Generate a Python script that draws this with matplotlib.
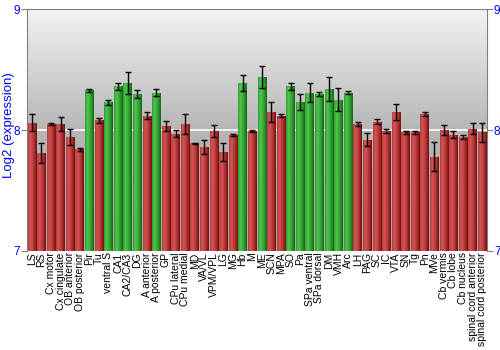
import numpy as np
import matplotlib.pyplot as plt
from matplotlib.colors import LinearSegmentedColormap

plt.rcParams['font.family'] = ['Liberation Sans', 'DejaVu Sans']

regions = ['LS', 'RS', 'Cx motor', 'Cx cingulate', 'OB anterior', 'OB posterior',
           'Pir', 'Tu', 'ventral S', 'CA1', 'CA2/CA3', 'DG', 'A anterior',
           'A posterior', 'GP', 'CPu lateral', 'CPu medial', 'MD', 'VA/VL',
           'VPM/VPL', 'LG', 'MG', 'Hb', 'M', 'ME', 'SCN', 'MPA', 'SO', 'Pa',
           'SPa ventral', 'SPa dorsal', 'DM', 'VMH', 'Arc', 'LH', 'PAG', 'SC',
           'IC', 'VTA', 'SN', 'Tg', 'Pn', 'MVe', 'Cb vermis', 'Cb lobe',
           'Cb nucleus', 'spinal cord anterior', 'spinal cord posterior']

expr = [8.06, 7.81, 8.05, 8.05, 7.94, 7.84,
        8.33, 8.08, 8.23, 8.36, 8.39, 8.30, 8.12,
        8.31, 8.035, 7.97, 8.05, 7.89, 7.86,
        7.99, 7.82, 7.96, 8.39, 7.99, 8.44, 8.15, 8.12, 8.36, 8.23,
        8.31, 8.30, 8.34, 8.25, 8.31, 8.05, 7.92, 8.07,
        7.99, 8.15, 7.98, 7.98, 8.13, 7.78, 8.00, 7.96,
        7.94, 8.01, 7.98]

err = [0.07, 0.08, 0.005, 0.06, 0.065, 0.01,
       0.013, 0.02, 0.022, 0.033, 0.093, 0.033, 0.028,
       0.03, 0.04, 0.03, 0.08, 0.005, 0.055,
       0.05, 0.075, 0.01, 0.065, 0.01, 0.09, 0.08, 0.01, 0.025, 0.065,
       0.08, 0.015, 0.1, 0.095, 0.015, 0.015, 0.055, 0.02,
       0.015, 0.065, 0.01, 0.01, 0.015, 0.12, 0.04, 0.03,
       0.015, 0.045, 0.075]

# 1 = region with elevated expression (green), 0 = red
high = [0, 0, 0, 0, 0, 0,
        1, 0, 1, 1, 1, 1, 0,
        1, 0, 0, 0, 0, 0,
        0, 0, 0, 1, 0, 1, 0, 0, 1, 1,
        1, 1, 1, 1, 1, 0, 0, 0,
        0, 0, 0, 0, 0, 0, 0, 0,
        0, 0, 0]

base = 7
x = np.arange(len(regions))

fig = plt.figure(figsize=(5, 3.5), dpi=100)
ax = fig.add_axes([0.054, 0.283, 0.92, 0.691])
ax.set_xlim(-0.5, len(regions) - 0.5)
ax.set_ylim(7, 9)

# vertical gray gradient behind the bars
bg = LinearSegmentedColormap.from_list('bg', ['#a8a8a8', '#b6b6b6', '#f2f2f2'])
ax.imshow(np.linspace(0, 1, 256).reshape(-1, 1), cmap=bg, aspect='auto',
          extent=(-0.5, len(regions) - 0.5, 7, 9), origin='lower', zorder=0)
ax.axhline(8, color='white', lw=1.2, zorder=1)

red_cm = LinearSegmentedColormap.from_list('r', ['#b83a3a', '#d25555', '#c44444', '#a52a2a', '#6e1010'])
green_cm = LinearSegmentedColormap.from_list('g', ['#2f9a2f', '#52c452', '#3fb23f', '#2a922a', '#156615'])

heights = [v - base for v in expr]
bars = ax.bar(x, heights, bottom=base, width=0.88, color='none',
              edgecolor='none', zorder=2)
shade = np.linspace(0, 1, 64).reshape(1, -1)
for b, h in zip(bars, high):
    x0 = b.get_x()
    im = ax.imshow(shade, cmap=green_cm if h else red_cm, aspect='auto',
                   extent=(x0, x0 + b.get_width(), base, base + b.get_height()),
                   zorder=2)
    im.set_clip_path(b)

ax.errorbar(x, expr, yerr=err, fmt='none', ecolor='black', elinewidth=1,
            capsize=2, capthick=1, zorder=3)

ax.set_xlim(-0.5, len(regions) - 0.5)
ax.set_ylim(7, 9)
ax.set_xticks(x)
ax.set_xticklabels(regions, rotation=90, fontsize=7.5)
ax.tick_params(axis='x', length=0, pad=1)
ax.set_yticks([7, 8, 9])
ax.tick_params(axis='y', colors='#808080', labelcolor='blue', labelsize=8.5,
               length=4, left=True, right=True, labelleft=True, labelright=True,
               pad=1)
ax.set_ylabel('Log2 (expression)', color='blue', fontsize=9.5, labelpad=2)
ax.yaxis.set_label_coords(-0.026, 0.52)

for side in ['left', 'right', 'top']:
    ax.spines[side].set_color('#808080')
ax.spines['bottom'].set_visible(False)

fig.savefig('out.png', dpi=100)
